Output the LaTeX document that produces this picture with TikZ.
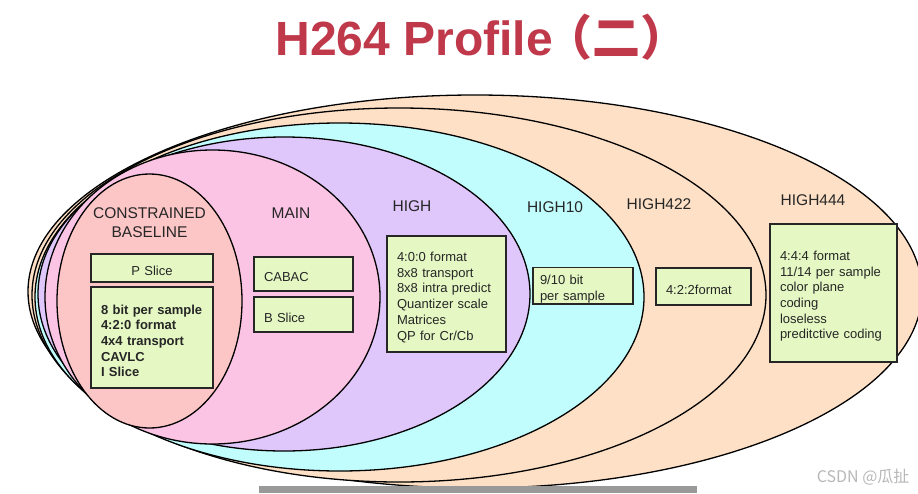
\documentclass[tikz,border=0pt]{standalone}
\usepackage{fontspec}
\setmainfont{Liberation Sans}
\newfontfamily\cjk{Noto Sans CJK SC}
\usepackage{tikz}
\usetikzlibrary{shapes.geometric}
\usepackage{xcolor}
\definecolor{peach}{HTML}{FDE0C5}
\definecolor{aqua}{HTML}{C2FDFD}
\definecolor{lilac}{HTML}{DFC6FB}
\definecolor{rosa}{HTML}{FCC4E4}
\definecolor{salmon}{HTML}{FCC5C6}
\definecolor{featgreen}{HTML}{E5F8C3}
\definecolor{titlered}{HTML}{C0394B}

\begin{document}
\begin{tikzpicture}[x=1pt,y=-1pt,
        ring/.style={ellipse,draw=black,line width=1.3pt,inner sep=0pt},
        label/.style={font=\fontsize{15.5}{19}\selectfont,text=black!85,align=center},
        feat/.style={draw=black!85,line width=1.6pt,fill=featgreen,inner xsep=10pt,text height=16pt,
                     align=left,font=\fontsize{13}{15.7}\selectfont,text=black!85}]
            \useasboundingbox[fill=white] (0,0) rectangle (918,493);

            % Profiles, outermost first
            \node[ring,fill=peach, minimum width=894pt,minimum height=393pt] (h444) at (475,291.5) {};
            \node[ring,fill=peach, minimum width=734pt,minimum height=374pt] (h422) at (399,295) {};
            \node[ring,fill=aqua,  minimum width=609pt,minimum height=348pt] (h10)  at (339.5,297) {};
            \node[ring,fill=lilac, minimum width=492pt,minimum height=314pt] (high) at (284,294) {};
            \node[ring,fill=rosa,  minimum width=335pt,minimum height=294pt] (main) at (212.5,297) {};
            \node[ring,fill=salmon,minimum width=185pt,minimum height=254pt] (cb)   at (149.5,301) {};

            \node[anchor=base west,font=\fontsize{48}{52}\selectfont\bfseries,text=titlered] (title)
                at (272,55) {H264 Profile\kern-8pt{\cjk（二）}};

            \node[label] (cbl)   at (149.5,222.5) {CONSTRAINED\\BASELINE};
            \node[label] (mainl) at (291,213) {MAIN};
            \node[label] (highl) at (412,206) {HIGH};
            \node[label] (h10l)  at (555,207) {HIGH10};
            \node[label] (h422l) at (659,204) {HIGH422};
            \node[label] (h444l) at (813,200) {HIGH444};

            \node[feat,align=center,text width=102pt,minimum height=28pt] (pslice) at (152,268) {P Slice};
            \node[feat,text width=102pt,minimum height=101pt,font=\fontsize{13}{15.7}\selectfont\bfseries] (cbfeat) at (152,337.5)
                {8 bit per sample\\4:2:0 format\\4x4 transport\\CAVLC\\I Slice};
            \node[feat,text width=79pt,minimum height=34pt] (cabac)  at (303.5,274) {CABAC};
            \node[feat,text width=79pt,minimum height=35pt] (bslice) at (303.5,314.5) {B Slice};
            \node[feat,text width=99pt,minimum height=116pt] (highfeat) at (446.5,294)
                {4:0:0 format\\8x8 transport\\8x8 intra predict\\Quantizer scale\\Matrices\\QP for Cr/Cb};
            \node[feat,inner xsep=7pt,text width=86pt,minimum height=35pt,inner ysep=1pt] (h10feat) at (583,285.5)
                {9/10 bit\\per sample};
            \node[feat,text width=75pt,minimum height=37pt] (h422feat) at (703.5,286.5) {4:2:2format};
            \node[feat,text width=107pt,minimum height=138pt] (h444feat) at (833.5,293)
                {4:4:4 format\\11/14 per sample\\color plane\\coding\\loseless\\preditctive coding};

            % player bar and watermark
            \fill[black!40] (259,486) rectangle (697,493);
            \node[anchor=east,font=\cjk\fontsize{16}{18}\selectfont,text=black!28] (mark) at (913,477) {CSDN @瓜扯};
\end{tikzpicture}
\end{document}
